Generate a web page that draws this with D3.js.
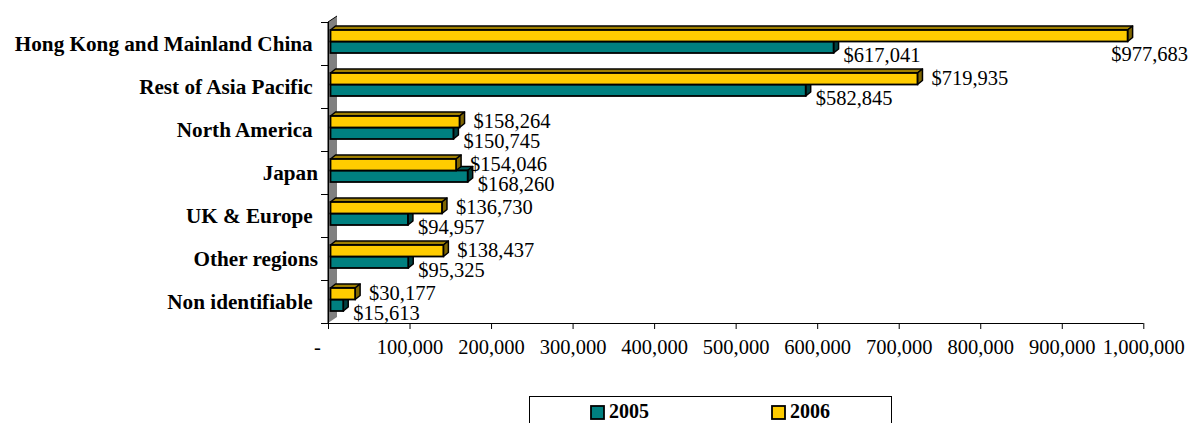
<!DOCTYPE html>
<html><head><meta charset="utf-8">
<script src="https://cdn.jsdelivr.net/npm/d3@7"></script>
<style>
html,body{margin:0;padding:0;background:#fff;}
svg{display:block;}
text{white-space:pre;font-family:"Liberation Serif","Times New Roman",serif;}
</style>
</head><body>
<svg id="chart" width="1192" height="423"></svg>
<script>
// ---- data ----
const categories = ["Hong Kong and Mainland China ", "Rest of Asia Pacific ", "North America ", "Japan", "UK & Europe ", "Other regions", "Non identifiable "];
const values2005 = [617041, 582845, 150745, 168260, 94957, 95325, 15613];
const values2006 = [977683, 719935, 158264, 154046, 136730, 138437, 30177];
const seriesNames = ["2005", "2006"];
const tickValues = [0, 100000, 200000, 300000, 400000, 500000, 600000, 700000, 800000, 900000, 1000000];

// ---- layout ----
const W = 1192, H = 423;
const plotL = 328, plotR = 1143.3, plotT = 22, plotB = 323;
const barShiftX = 2.5, barShiftY = -2;   // bar plane offset inside the 3D depth
const depthX = 5, depthY = 4;            // bar depth
const wallX = 9, wallY = 6;              // wall depth
const colors = {"2005": "#008080", "2006": "#FFCC00"};
const sideColors = {"2005": "#004040", "2006": "#806600"};
const topColors = {"2005": "#005c5c", "2006": "#a08000"};
const serif = '"Liberation Serif","Times New Roman",serif';

const svg = d3.select("#chart");
svg.append("rect").attr("width", W).attr("height", H).attr("fill", "#fff");

const x = d3.scaleLinear().domain([0, 1000000]).range([plotL, plotR]);
const y = d3.scaleBand().domain(categories).range([plotT, plotB]);
const ySub = d3.scaleBand().domain(["2006", "2005"]).range([10, 33]);

const data = categories.map((c, i) => ({cat: c, "2005": values2005[i], "2006": values2006[i]}));

// ---- wall ----
svg.append("path")
  .attr("d", `M${plotL},${plotT} L${plotL + wallX},${plotT - wallY} L${plotL + wallX},${plotB - wallY} L${plotL},${plotB} Z`)
  .attr("fill", "#808080").attr("stroke", "none");
svg.append("path")
  .attr("d", `M${plotL},${plotB} L${plotL},${plotT} L${plotL + wallX},${plotT - wallY}`)
  .attr("fill", "none").attr("stroke", "#000").attr("stroke-width", 1);

// ---- axes ----
const xAxis = d3.axisBottom(x).tickValues(tickValues).tickSize(6).tickSizeOuter(0)
  .tickFormat(d => d === 0 ? "-" : d3.format(",")(d));
const gx = svg.append("g").attr("transform", `translate(0,${plotB})`).call(xAxis);
gx.attr("font-family", null);
gx.select(".domain").attr("d", `M${plotL - 7},0.5H${plotR}`).attr("stroke", "#000");
gx.selectAll(".tick line").attr("stroke", "#000");
gx.selectAll(".tick text")
  .style("font-family", serif)
  .attr("font-size", "20.5px").attr("fill", "#000")
  .attr("y", 16).attr("dy", "0.71em")
  .attr("x", d => d === 0 ? -11 : 0);

const yAxis = d3.axisLeft(y).tickSize(0).tickPadding(10);
const gy = svg.append("g").attr("transform", `translate(${plotL},0)`).call(yAxis);
gy.attr("font-family", null);
gy.select(".domain").attr("d", `M0.5,${plotT}V${plotB + 6}`).attr("stroke", "#000");
gy.selectAll(".tick text")
  .style("font-family", serif)
  .attr("font-size", "21.2px").attr("font-weight", "bold").attr("fill", "#000")
  .attr("x", -10).attr("dy", "0.33em");
const boundaries = categories.map(c => y(c)).concat([plotB]);
svg.append("g").selectAll("line").data(boundaries).join("line")
  .attr("x1", plotL - 7).attr("x2", plotL).attr("y1", d => d + 0.5).attr("y2", d => d + 0.5)
  .attr("stroke", "#000");

// ---- bars ----
const barsG = svg.append("g");
data.forEach(d => {
  ["2005", "2006"].forEach(s => {
    const x0 = x(0) + barShiftX, x1 = x(d[s]) + barShiftX;
    const y0 = y(d.cat) + ySub(s) + barShiftY, h = ySub.bandwidth();
    const g = barsG.append("g");
    g.append("path")
      .attr("d", `M${x0},${y0} L${x0 + depthX},${y0 - depthY} L${x1 + depthX},${y0 - depthY} L${x1},${y0} Z`)
      .attr("fill", topColors[s]).attr("stroke", "#000").attr("stroke-width", 1.5).attr("stroke-linejoin", "round");
    g.append("path")
      .attr("d", `M${x1},${y0} L${x1 + depthX},${y0 - depthY} L${x1 + depthX},${y0 + h - depthY} L${x1},${y0 + h} Z`)
      .attr("fill", sideColors[s]).attr("stroke", "#000").attr("stroke-width", 1.5).attr("stroke-linejoin", "round");
    g.append("rect")
      .attr("x", x0).attr("y", y0).attr("width", x1 - x0).attr("height", h)
      .attr("fill", colors[s]).attr("stroke", "#000").attr("stroke-width", 1.8);
  });
});

// ---- value labels ----
const labelsG = svg.append("g")
  .style("font-family", serif)
  .attr("font-size", "20.5px").attr("fill", "#000");
data.forEach(d => {
  ["2006", "2005"].forEach(s => {
    const endX = x(d[s]) + barShiftX + depthX;
    const cy = y(d.cat) + ySub(s) + barShiftY + ySub.bandwidth() / 2;
    const t = labelsG.append("text").text("$" + d3.format(",")(d[s]));
    let lx, ly;
    if (s === "2006") { lx = endX + 9; ly = cy - 0.5; }
    else { lx = endX + 5; ly = cy + 8; }
    const w = t.node().getComputedTextLength();
    if (lx + w > W - 3) {
      const tealCy = y(d.cat) + ySub("2005") + barShiftY + ySub.bandwidth() / 2;
      lx = W - 4 - w; ly = tealCy + 7;
    }
    t.attr("x", lx).attr("y", ly).attr("dy", "0.34em");
  });
});

// ---- legend ----
const lg = svg.append("g");
lg.append("rect").attr("x", 529.5).attr("y", 396.5).attr("width", 362).attr("height", 40)
  .attr("fill", "#fff").attr("stroke", "#000").attr("stroke-width", 1);
const legendX = d3.scalePoint().domain(seriesNames).range([591, 772]);
seriesNames.forEach(s => {
  lg.append("rect").attr("x", legendX(s)).attr("y", 406).attr("width", 13).attr("height", 13)
    .attr("fill", colors[s]).attr("stroke", "#000").attr("stroke-width", 1.8);
  lg.append("text").attr("x", legendX(s) + 18).attr("y", 411).attr("dy", "0.36em")
    .style("font-family", serif)
    .attr("font-size", "20px").attr("font-weight", "bold").attr("fill", "#000").text(s);
});
</script>
</body></html>
